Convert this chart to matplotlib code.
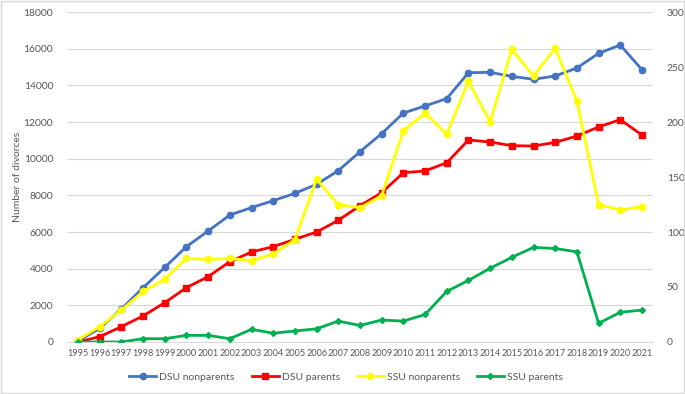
import matplotlib.pyplot as plt
import numpy as np

plt.rcParams['font.family'] = ['Lato', 'DejaVu Sans']

years = list(range(1995, 2022))

# left axis
dsu_nonparents = [50, 745, 1800, 2960, 4070, 5200, 6055, 6925, 7330, 7710, 8110, 8600, 9345,
                  10380, 11365, 12490, 12875, 13275, 14690, 14710, 14490, 14330, 14510, 14945,
                  15745, 16200, 14855]
dsu_parents = [0, 290, 835, 1420, 2145, 2965, 3565, 4380, 4910, 5200, 5600, 6000, 6635,
               7435, 8145, 9235, 9330, 9780, 11020, 10910, 10710, 10690, 10890, 11235,
               11730, 12130, 11290]
# right axis
ssu_nonparents = [2, 14, 29, 46, 57, 76, 75, 76, 74, 80, 93, 148, 125, 122, 133, 192, 208,
                  189, 237, 200, 266, 242, 267, 219, 125, 120, 123]
ssu_parents = [0, 0, 0, 3, 3, 6, 6, 3, 11.5, 8, 10, 12, 19, 15, 20, 19, 25, 46, 56, 67, 77,
               86, 85, 82, 17, 27, 29]

fig = plt.figure(figsize=(6.85, 3.94), dpi=100)
ax = fig.add_axes([0.098, 0.132, 0.855, 0.8375])
ax2 = ax.twinx()

x = np.arange(len(years))
l1, = ax.plot(x, dsu_nonparents, color='#4472C4', lw=2, marker='o', ms=4.5, label='DSU nonparents')
l2, = ax.plot(x, dsu_parents, color='#FF0000', lw=2, marker='s', ms=4.5, label='DSU parents')
l3, = ax2.plot(x, ssu_nonparents, color='#FFFF00', lw=2, marker='o', ms=4.5, label='SSU nonparents')
l4, = ax2.plot(x, ssu_parents, color='#00B050', lw=2, marker='D', ms=3, label='SSU parents')

ax.set_xlim(-0.5, len(years) - 0.5)
ax.set_ylim(0, 18000)
ax2.set_ylim(0, 300)
ax.set_yticks(range(0, 18001, 2000))
ax2.set_yticks(range(0, 301, 50))
ax.set_xticks(x)
ax.set_xticklabels([str(y) for y in years])
ax.grid(axis='y', color='#D9D9D9', lw=0.8)
ax.set_axisbelow(True)

for a in (ax, ax2):
    for s in a.spines.values():
        s.set_visible(False)
    a.tick_params(length=0, labelsize=7.5, colors='#595959')
ax.spines['bottom'].set_visible(True)
ax.spines['bottom'].set_color('#D9D9D9')
ax.tick_params(axis='y', pad=10)
ax2.tick_params(axis='y', pad=10)
ax.tick_params(axis='x', pad=5, labelsize=6.6)

ax.set_ylabel('Number of divorces', fontsize=7.5, color='#595959')
ax.yaxis.set_label_coords(-0.077, 0.5)

fig.legend(handles=[l1, l2, l3, l4], loc='center', bbox_to_anchor=(0.505, 0.043), ncol=4,
           frameon=False, fontsize=7.5, labelcolor='#595959', handlelength=2.6,
           handletextpad=0.3, columnspacing=1.6)

fig.patches.append(plt.Rectangle((0.002, 0.003), 0.996, 0.994, transform=fig.transFigure,
                                 fill=False, edgecolor='#D9D9D9', lw=1))

fig.savefig('out.png', dpi=100)
